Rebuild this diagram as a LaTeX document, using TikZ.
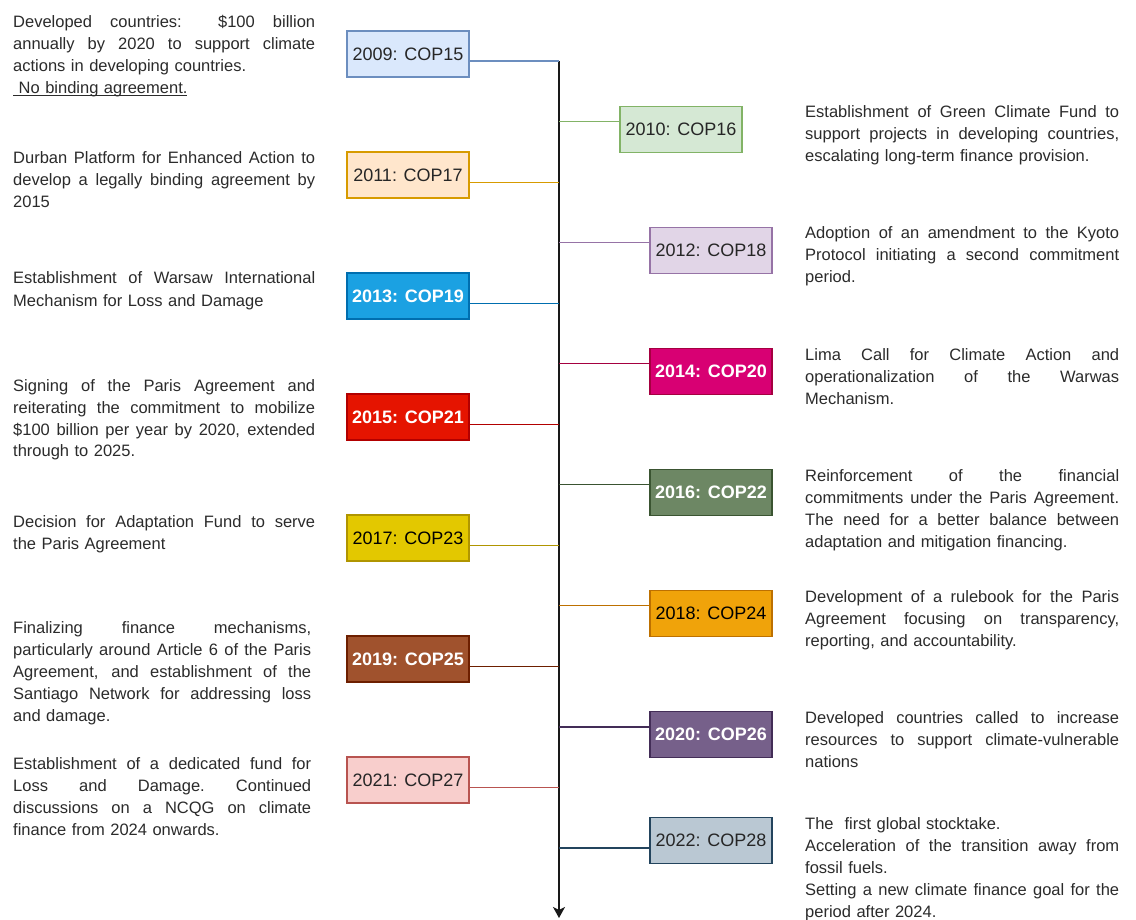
\documentclass[tikz,border=0pt]{standalone}
\usepackage{fontspec}
\setmainfont{Liberation Sans}
\usetikzlibrary{arrows.meta}
\definecolor{txt}{HTML}{2B2B2B}
\definecolor{f09}{HTML}{DAE8FC}\definecolor{s09}{HTML}{6C8EBF}
\definecolor{f10}{HTML}{D5E8D4}\definecolor{s10}{HTML}{82B366}
\definecolor{f11}{HTML}{FFE6CC}\definecolor{s11}{HTML}{D79B00}
\definecolor{f12}{HTML}{E1D5E7}\definecolor{s12}{HTML}{9673A6}
\definecolor{f13}{HTML}{1BA1E2}\definecolor{s13}{HTML}{006EAF}
\definecolor{f14}{HTML}{D80073}\definecolor{s14}{HTML}{A50040}
\definecolor{f15}{HTML}{E51400}\definecolor{s15}{HTML}{B20000}
\definecolor{f16}{HTML}{6D8764}\definecolor{s16}{HTML}{3A5431}
\definecolor{f17}{HTML}{E3C800}\definecolor{s17}{HTML}{B09500}
\definecolor{f18}{HTML}{F0A30A}\definecolor{s18}{HTML}{BD7000}
\definecolor{f19}{HTML}{A0522D}\definecolor{s19}{HTML}{6D1F00}
\definecolor{f20}{HTML}{76608A}\definecolor{s20}{HTML}{432D57}
\definecolor{f21}{HTML}{F8CECC}\definecolor{s21}{HTML}{B85450}
\definecolor{f22}{HTML}{BAC8D3}\definecolor{s22}{HTML}{23445D}
\newlength\jw
\newcommand\jl[1]{\leavevmode\hbox to \jw{\spaceskip=0.278em plus 3em minus 0.05em\relax
  \xspaceskip=\spaceskip #1}}
\tikzset{
  yr/.style={draw, line width=1.2pt, minimum width=122pt, minimum height=46pt,
    inner sep=0pt, font=\fontsize{18}{20}\selectfont, text=black!85},
  yrw/.style={yr, text=white, font=\fontsize{18}{20}\selectfont\bfseries},
  desc/.style={anchor=base west, inner sep=0pt, text width=#1, align=left,
    font=\fontsize{16.5}{22}\selectfont\setlength\jw{#1}, text=txt},
  desc/.default=302pt,
  conn/.style={line width=1.1pt},
  tline/.style={line width=1.4pt, black!90, -{Stealth[length=11pt,width=12pt,inset=3pt]}},
}
\begin{document}
\begin{tikzpicture}[x=1pt,y=-1pt]
\fill[white] (0,0) rectangle (1136,920);
\useasboundingbox (0,0) rectangle (1136,920);

% timeline
\coordinate (top) at (559,61);
\coordinate (bot) at (559,918);
\draw[tline] (top) -- (bot);

% timeline junctions
\coordinate (t09) at (559,61);
\coordinate (t10) at (559,121.7);
\coordinate (t11) at (559,182.3);
\coordinate (t12) at (559,242.7);
\coordinate (t13) at (559,303.3);
\coordinate (t14) at (559,363.7);
\coordinate (t15) at (559,424.3);
\coordinate (t16) at (559,484.7);
\coordinate (t17) at (559,545.7);
\coordinate (t18) at (559,605.7);
\coordinate (t19) at (559,666.7);
\coordinate (t20) at (559,727);
\coordinate (t21) at (559,787.7);
\coordinate (t22) at (559,848);

% left boxes
\node[yr, fill=f09, draw=s09] (b09) at (408,54) {2009: COP15};
\node[yr, fill=f11, draw=s11] (b11) at (408,175) {2011: COP17};
\node[yrw, fill=f13, draw=s13] (b13) at (408,296) {2013: COP19};
\node[yrw, fill=f15, draw=s15] (b15) at (408,417) {2015: COP21};
\node[yr, fill=f17, draw=s17, text=black] (b17) at (408,538) {2017: COP23};
\node[yrw, fill=f19, draw=s19] (b19) at (408,659) {2019: COP25};
\node[yr, fill=f21, draw=s21] (b21) at (408,780) {2021: COP27};

% right boxes
\node[yr, fill=f10, draw=s10] (b10) at (681,129.5) {2010: COP16};
\node[yr, fill=f12, draw=s12] (b12) at (711,250.5) {2012: COP18};
\node[yrw, fill=f14, draw=s14] (b14) at (711,371.7) {2014: COP20};
\node[yrw, fill=f16, draw=s16] (b16) at (711,492.8) {2016: COP22};
\node[yr, fill=f18, draw=s18, text=black] (b18) at (711,613.3) {2018: COP24};
\node[yrw, fill=f20, draw=s20] (b20) at (711,734.7) {2020: COP26};
\node[yr, fill=f22, draw=s22] (b22) at (711,840.7) {2022: COP28};

% connectors
\foreach \n in {09,11,13,15,17,19,21}{
  \draw[conn, draw=s\n] (b\n.east |- t\n) -- (t\n);
}
\foreach \n in {10,12,14,16,18,20,22}{
  \draw[conn, draw=s\n] (t\n) -- (b\n.west |- t\n);
}

% left descriptions
\node[desc] (d09) at (13,28) {\jl{Developed countries: \ \$100 billion}\\
\jl{annually by 2020 to support climate}\\
actions in developing countries.\\
\underline{\smash{\ No binding agreement.}}};
\node[desc] (d11) at (13,164) {\jl{Durban Platform for Enhanced Action to}\\
\jl{develop a legally binding agreement by}\\
2015};
\node[desc] (d13) at (13,284) {\jl{Establishment of Warsaw International}\\
Mechanism for Loss and Damage};
\node[desc] (d15) at (13,391) {\jl{Signing of the Paris Agreement and}\\
\jl{reiterating the commitment to mobilize}\\
\jl{\$100 billion per year by 2020, extended}\\
through to 2025.};
\node[desc] (d17) at (13,527) {\jl{Decision for Adaptation Fund to serve}\\
the Paris Agreement};
\node[desc=298pt] (d19) at (13,633) {\jl{Finalizing finance mechanisms,}\\
\jl{particularly around Article 6 of the Paris}\\
\jl{Agreement, and establishment of the}\\
\jl{Santiago Network for addressing loss}\\
and damage.};
\node[desc=298pt] (d21) at (13,769) {\jl{Establishment of a dedicated fund for}\\
\jl{Loss and Damage. Continued}\\
\jl{discussions on a NCQG on climate}\\
finance from 2024 onwards.};

% right descriptions
\node[desc=314pt] (d10) at (805,118) {\jl{Establishment of Green Climate Fund to}\\
\jl{support projects in developing countries,}\\
escalating long-term finance provision.};
\node[desc=314pt] (d12) at (805,239) {\jl{Adoption of an amendment to the Kyoto}\\
\jl{Protocol initiating a second commitment}\\
period.};
\node[desc=314pt] (d14) at (805,360) {\jl{Lima Call for Climate Action and}\\
\jl{operationalization of the Warwas}\\
Mechanism.};
\node[desc=314pt] (d16) at (805,481) {\jl{Reinforcement of the financial}\\
\jl{commitments under the Paris Agreement.}\\
\jl{The need for a better balance between}\\
adaptation and mitigation financing.};
\node[desc=314pt] (d18) at (805,602) {\jl{Development of a rulebook for the Paris}\\
\jl{Agreement focusing on transparency,}\\
reporting, and accountability.};
\node[desc=314pt] (d20) at (805,723) {\jl{Developed countries called to increase}\\
\jl{resources to support climate-vulnerable}\\
nations};
\node[desc=314pt] (d22) at (805,829) {The \ first global stocktake.\\
\jl{Acceleration of the transition away from}\\
fossil fuels.\\
\jl{Setting a new climate finance goal for the}\\
period after 2024.};
\end{tikzpicture}
\end{document}
